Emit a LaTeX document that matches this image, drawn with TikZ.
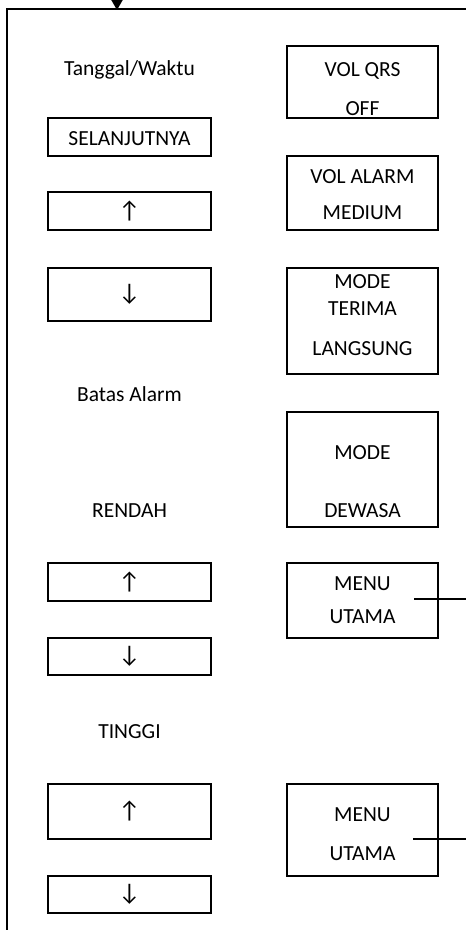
\documentclass[tikz,border=0pt]{standalone}
\usepackage{fontspec}
\setmainfont{Carlito}
\usetikzlibrary{arrows.meta}
\tikzset{
  frame/.style={line width=1.8pt},
  box/.style={draw, line width=1.8pt, inner sep=0pt},
  lbl/.style={anchor=base, inner sep=0pt, font=\fontsize{21.5}{24}\selectfont},
  arr/.style={inner sep=0pt, font=\fontsize{24}{26}\selectfont},
  link/.style={line width=1.8pt}
}
\begin{document}
\begin{tikzpicture}[x=1pt,y=-1pt]
\useasboundingbox (0,0) rectangle (466,930);
% outer frame
\draw[frame] (7,931) -- (7,9) -- (467,9);
\coordinate (in0) at (117,-5);
\coordinate (in1) at (117,10);
\draw[frame, -{Triangle[width=11pt,length=10pt]}] (in0) -- (in1);

% left column
\node[lbl] (tw) at (129.5,75) {Tanggal/Waktu};
\node[box, minimum width=163pt, minimum height=38pt] (sel) at (129.5,137) {};
\node[lbl] (selt) at (129.5,145) {SELANJUTNYA};
\node[box, minimum width=163pt, minimum height=38pt] (up1) at (129.5,211) {};
\node[arr] at (up1.center) {↑};
\node[box, minimum width=163pt, minimum height=53pt] (dn1) at (129.5,294.5) {};
\node[arr] at (dn1.center) {↓};
\node[lbl] (batas) at (129.5,401) {Batas Alarm};
\node[lbl] (rendah) at (129.5,517) {RENDAH};
\node[box, minimum width=163pt, minimum height=38pt] (up2) at (129.5,582) {};
\node[arr] at (up2.center) {↑};
\node[box, minimum width=163pt, minimum height=37pt] (dn2) at (129.5,656.5) {};
\node[arr] at (dn2.center) {↓};
\node[lbl] (tinggi) at (129.5,738) {TINGGI};
\node[box, minimum width=163pt, minimum height=55pt] (up3) at (129.5,811.5) {};
\node[arr] at (up3.center) {↑};
\node[box, minimum width=163pt, minimum height=37pt] (dn3) at (129.5,894.5) {};
\node[arr] at (dn3.center) {↓};

% right column
\node[box, minimum width=151pt, minimum height=72pt] (qrs) at (362.5,82) {};
\node[lbl] at (362.5,76) {VOL QRS};
\node[lbl] at (362.5,115) {OFF};
\node[box, minimum width=151pt, minimum height=74pt] (alarm) at (362.5,193) {};
\node[lbl] at (362.5,183) {VOL ALARM};
\node[lbl] at (362.5,219) {MEDIUM};
\node[box, minimum width=151pt, minimum height=106pt] (terima) at (362.5,321) {};
\node[lbl] at (362.5,288) {MODE};
\node[lbl] at (362.5,315) {TERIMA};
\node[lbl] at (362.5,355) {LANGSUNG};
\node[box, minimum width=151pt, minimum height=115pt] (dewasa) at (362.5,469.5) {};
\node[lbl] at (362.5,459) {MODE};
\node[lbl] at (362.5,517) {DEWASA};
\node[box, minimum width=151pt, minimum height=75pt] (menu1) at (362.5,600.5) {};
\node[lbl] at (362.5,590) {MENU};
\node[lbl] at (362.5,623) {UTAMA};
\node[box, minimum width=151pt, minimum height=92pt] (menu2) at (362.5,830) {};
\node[lbl] at (362.5,821) {MENU};
\node[lbl] at (362.5,860) {UTAMA};

% connectors leaving the menu boxes
\coordinate (m1a) at (414,599);
\coordinate (m1b) at (467,599);
\draw[link] (m1a) -- (m1b);
\coordinate (m2a) at (413,839);
\coordinate (m2b) at (467,839);
\draw[link] (m2a) -- (m2b);
\end{tikzpicture}
\end{document}
